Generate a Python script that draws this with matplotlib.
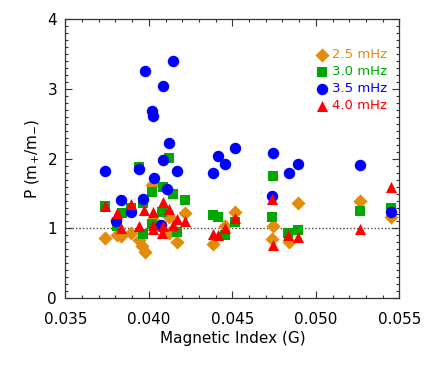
import matplotlib
matplotlib.use("Agg")
import matplotlib.pyplot as plt
from matplotlib.ticker import MultipleLocator

# 2.5 mHz (orange diamonds)
x25 = [0.04020, 0.03735, 0.03807, 0.03834, 0.03890, 0.03942, 0.03956, 0.03976,
       0.04026, 0.04122, 0.04120, 0.04170, 0.04217, 0.04381, 0.04453, 0.04515,
       0.04744, 0.04737, 0.04838, 0.04892, 0.05265, 0.05447]
y25 = [1.63, 0.86, 0.91, 0.89, 0.94, 0.83, 0.75, 0.66,
       1.12, 1.16, 0.93, 0.80, 1.22, 0.77, 1.03, 1.24,
       1.04, 0.85, 0.81, 1.36, 1.39, 1.16]

# 3.0 mHz (green squares)
x30 = [0.04120, 0.03942, 0.03735, 0.03836, 0.03893, 0.04020, 0.04084, 0.04144,
       0.03966, 0.04217, 0.04076, 0.03807, 0.03966, 0.04020, 0.04170, 0.04381,
       0.04411, 0.04453, 0.04515, 0.04744, 0.04737, 0.04836, 0.04892, 0.05265,
       0.05447]
y30 = [2.01, 1.88, 1.32, 1.22, 1.29, 1.52, 1.59, 1.50,
       1.37, 1.41, 1.24, 1.03, 0.92, 1.07, 0.95, 1.19,
       1.17, 0.90, 1.09, 1.75, 1.16, 0.94, 0.98, 1.25,
       1.29]

# 3.5 mHz (blue circles)
x35 = [0.04142, 0.03974, 0.04084, 0.04020, 0.04026, 0.04120, 0.04515, 0.04411,
       0.04084, 0.04170, 0.03735, 0.03942, 0.04453, 0.04381, 0.04028, 0.04110,
       0.03834, 0.03966, 0.03890, 0.03804, 0.04070, 0.04744, 0.04892, 0.04838,
       0.05265, 0.04737, 0.05447]
y35 = [3.40, 3.26, 3.04, 2.68, 2.62, 2.22, 2.16, 2.04,
       1.98, 1.83, 1.83, 1.86, 1.92, 1.79, 1.73, 1.57,
       1.41, 1.42, 1.23, 1.10, 1.05, 2.08, 1.93, 1.79,
       1.91, 1.46, 1.24]

# 4.0 mHz (red triangles)
x40 = [0.03735, 0.03807, 0.03890, 0.03834, 0.03942, 0.03972, 0.04026, 0.04084,
       0.04120, 0.04170, 0.04217, 0.04026, 0.04022, 0.04076, 0.04086, 0.04142,
       0.04381, 0.04411, 0.04453, 0.04515, 0.04737, 0.04744, 0.04836, 0.04892,
       0.05265, 0.05447]
y40 = [1.32, 1.22, 1.35, 1.01, 1.04, 1.27, 1.24, 1.38,
       1.28, 1.13, 1.11, 1.05, 0.99, 0.94, 1.03, 1.05,
       0.92, 0.91, 1.00, 1.15, 1.42, 0.76, 0.91, 0.88,
       0.99, 1.59]

labels = ["2.5 mHz", "3.0 mHz", "3.5 mHz", "4.0 mHz"]
colors = ["#E38B0A", "#00A800", "#0000FF", "#FF0000"]

plt.rcParams['font.family'] = ['DejaVu Sans']
fig = plt.figure(figsize=(4.36, 3.74), dpi=100)
ax = fig.add_axes([0.150, 0.203, 0.766, 0.745])

ax.axhline(1.0, color="#444444", linestyle=(0, (1, 1.5)), linewidth=1.0, zorder=1)

ax.scatter(x25, y25, marker="D", s=52, color=colors[0], label=labels[0], zorder=2, linewidths=0)
ax.scatter(x30, y30, marker="s", s=55, color=colors[1], label=labels[1], zorder=3, linewidths=0)
ax.scatter(x35, y35, marker="o", s=68, color=colors[2], label=labels[2], zorder=4, linewidths=0)
ax.scatter(x40, y40, marker="^", s=64, color=colors[3], label=labels[3], zorder=5, linewidths=0)

ax.set_xlim(0.035, 0.055)
ax.set_ylim(0, 4)
ax.xaxis.set_major_locator(MultipleLocator(0.005))
ax.xaxis.set_minor_locator(MultipleLocator(0.001))
ax.yaxis.set_major_locator(MultipleLocator(1))
ax.yaxis.set_minor_locator(MultipleLocator(0.1))
ax.xaxis.set_major_formatter(matplotlib.ticker.FormatStrFormatter('%.3f'))
ax.tick_params(which="both", direction="in", top=True, right=True, labelsize=11, width=0.8, color="#333333")
ax.tick_params(which="major", length=5)
ax.tick_params(which="minor", length=2.5)
ax.tick_params(axis="x", which="major", pad=10)
ax.tick_params(axis="y", which="major", pad=6)
for sp in ax.spines.values():
    sp.set_linewidth(0.9)
    sp.set_color("#333333")

ax.set_xlabel("Magnetic Index (G)", fontsize=11, labelpad=3)
ax.set_ylabel(r"P (m$_{+}$/m$_{-}$)", fontsize=11, labelpad=4)

leg = ax.legend(loc="upper left", bbox_to_anchor=(0.72, 0.93), frameon=False,
                fontsize=9.5, handletextpad=0.3, labelspacing=0.3,
                handlelength=1.0, borderpad=0.2)
for t, c in zip(leg.get_texts(), colors):
    t.set_color(c)

fig.savefig("out.png", dpi=100)
